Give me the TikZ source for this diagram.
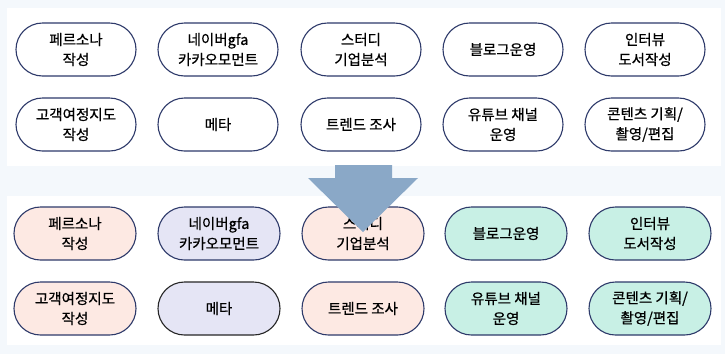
\documentclass[tikz,border=0pt]{standalone}
\usepackage{fontspec}
\setmainfont{Noto Sans CJK KR}[FakeBold=0.7]
\usetikzlibrary{shapes.misc}
\definecolor{pagebg}{HTML}{F4F8FC}
\definecolor{pillline}{HTML}{2E3A6A}
\definecolor{pinkfill}{HTML}{FDE9E3}
\definecolor{lilacfill}{HTML}{E5E5F5}
\definecolor{mintfill}{HTML}{C8F0E5}
\definecolor{arrowblue}{HTML}{8AA8C7}
\tikzset{
  pill/.style={rounded rectangle,draw=pillline,line width=1.1pt,fill=white,
    minimum width=120,minimum height=53,inner sep=0pt,align=center,
    font=\fontsize{14.5}{20}\selectfont},
  pinkpill/.style={pill,fill=pinkfill,minimum width=122},
  lilacpill/.style={pill,fill=lilacfill,minimum width=122},
  mintpill/.style={pill,fill=mintfill,minimum width=122},
}
\begin{document}
\begin{tikzpicture}[x=1pt,y=-1pt]
\fill[pagebg] (0,0) rectangle (725,354);
\useasboundingbox (0,0) rectangle (725,354);
% panels
\fill[white] (7,8) rectangle (721,166);
\fill[white] (7,196) rectangle (721,345);
% before
\node[pill] (a1) at (76,49.5) {페르소나\\작성};
\node[pill] (a2) at (218,49.5) {네이버gfa\\카카오모먼트};
\node[pill] (a3) at (361,49.5) {스터디\\기업분석};
\node[pill] (a4) at (503,49.5) {블로그운영};
\node[pill] (a5) at (645,49.5) {인터뷰\\도서작성};
\node[pill] (a6) at (76,124.5) {고객여정지도\\작성};
\node[pill] (a7) at (218,124.5) {메타};
\node[pill] (a8) at (361,124.5) {트렌드 조사};
\node[pill] (a9) at (503,124.5) {유튜브 채널\\운영};
\node[pill] (a10) at (645,124.5) {콘텐츠 기획/\\촬영/편집};
% after
\node[pinkpill] (b1) at (75,233.5) {페르소나\\작성};
\node[lilacpill] (b2) at (219,233.5) {네이버gfa\\카카오모먼트};
\node[pinkpill] (b3) at (363,233.5) {스터디\\기업분석};
\node[mintpill] (b4) at (506,233.5) {블로그운영};
\node[mintpill] (b5) at (650,233.5) {인터뷰\\도서작성};
\node[pinkpill] (b6) at (75,308.5) {고객여정지도\\작성};
\node[lilacpill,draw=black!85] (b7) at (219,308.5) {메타};
\node[pinkpill] (b8) at (363,308.5) {트렌드 조사};
\node[mintpill] (b9) at (506,308.5) {유튜브 채널\\운영};
\node[mintpill] (b10) at (650,308.5) {콘텐츠 기획/\\촬영/편집};
% block arrow
\fill[arrowblue] (335,165) -- (392,165) -- (392,178) -- (418,178) -- (363,232)
  -- (308,178) -- (335,178) -- cycle;
\end{tikzpicture}
\end{document}
